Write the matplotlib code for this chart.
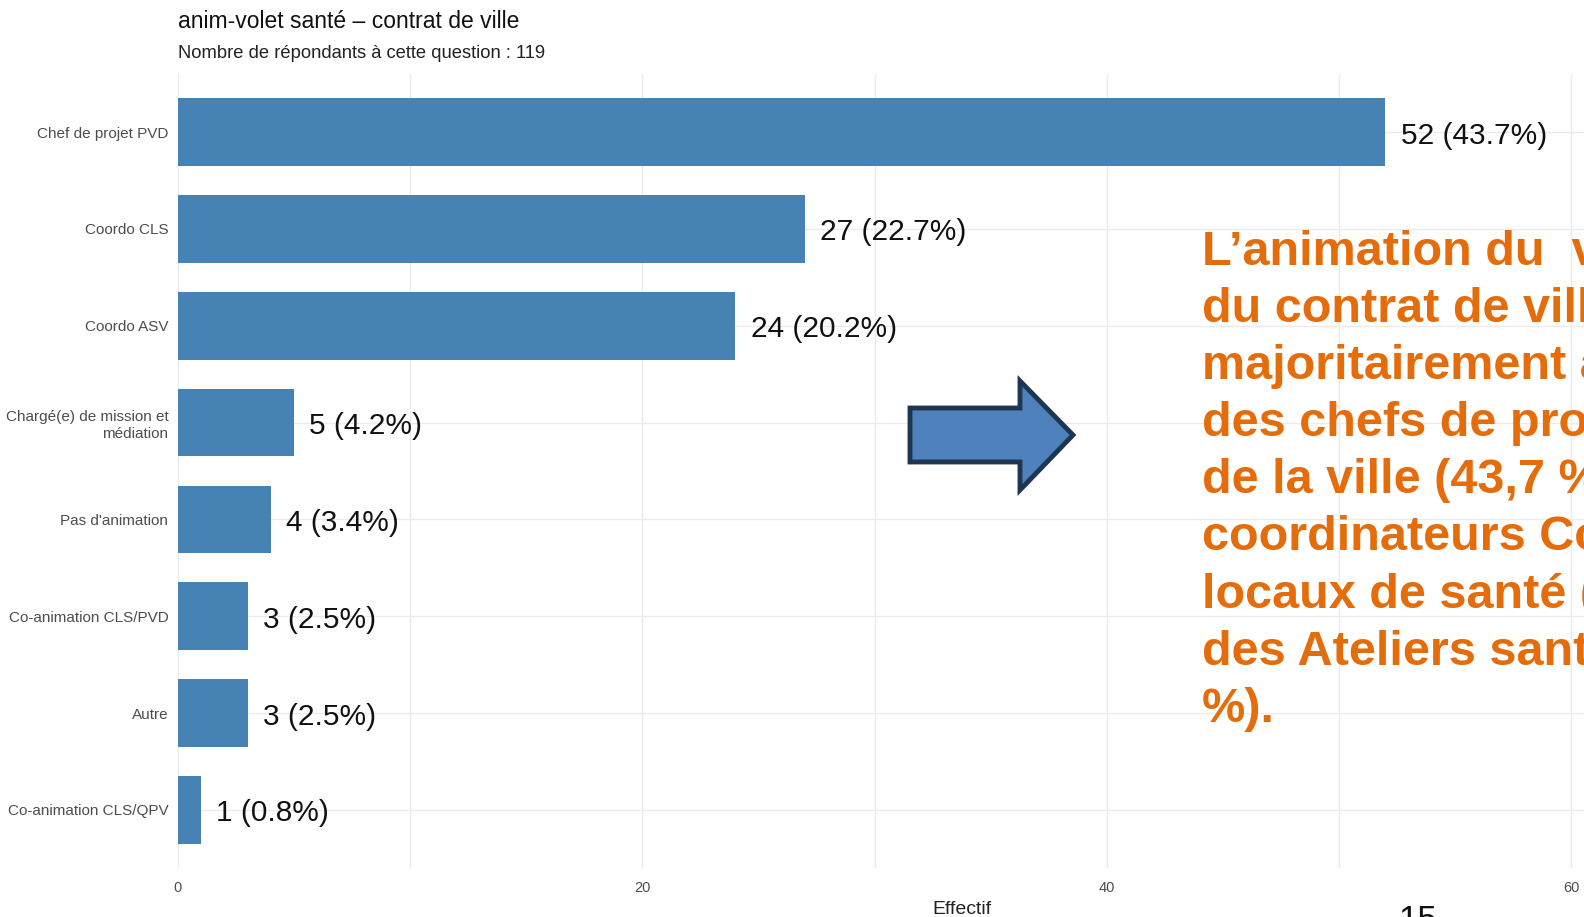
import numpy as np
import matplotlib.pyplot as plt
from matplotlib.patches import Polygon

# data
categories = ['Chef de projet PVD', 'Coordo CLS', 'Coordo ASV',
              'Chargé(e) de mission et\nmédiation', "Pas d'animation",
              'Co-animation CLS/PVD', 'Autre', 'Co-animation CLS/QPV']
counts = [52, 27, 24, 5, 4, 3, 3, 1]
percents = ['43.7%', '22.7%', '20.2%', '4.2%', '3.4%', '2.5%', '2.5%', '0.8%']
xticks = [0, 20, 40, 60]

title = 'anim-volet santé – contrat de ville'
subtitle = 'Nombre de répondants à cette question : 119'
comment_lines = ['L’animation du  volet santé',
                 'du contrat de ville est assurée',
                 'majoritairement assurée par',
                 'des chefs de projet politique',
                 'de la ville (43,7 %), des',
                 'coordinateurs Contrats',
                 'locaux de santé (22,7 %) et',
                 'des Ateliers santé ville (20,2',
                 '%).']

plt.rcParams['font.family'] = ['Liberation Sans', 'DejaVu Sans']

W, H = 1584, 917
fig = plt.figure(figsize=(W / 100, H / 100), dpi=100)

# panel position (pixels in the reference)
left, right, top, bottom = 178, 1584, 74, 868
ax = fig.add_axes([left / W, 1 - bottom / H, (right - left) / W, (bottom - top) / H])

ypos = np.arange(len(categories))
ax.barh(ypos, counts, height=0.7, color='#4682B4', zorder=2)

for y, c, p in zip(ypos, counts, percents):
    ax.annotate(f'{c} ({p})', (c, y), xytext=(11, -2.5), textcoords='offset points',
                va='center', ha='left', fontsize=21.5, color='#111111')

ax.set_xlim(0, (right - left) / 23.22)
ax.set_ylim(len(categories) - 0.4, -0.6)

ax.set_xticks(xticks)
ax.set_xticks([10, 30, 50], minor=True)
ax.set_yticks(ypos)
ax.set_yticklabels(categories, fontsize=11, color='#4D4D4D', linespacing=1.25)
ax.tick_params(axis='x', labelsize=10.5, colors='#4D4D4D', length=0, pad=9)
ax.tick_params(axis='x', which='minor', length=0)
ax.tick_params(axis='y', length=0, pad=7)

ax.grid(True, which='both', axis='x', color='#EBEBEB', lw=1, zorder=0)
ax.grid(True, axis='y', color='#EBEBEB', lw=1, zorder=0)
ax.set_axisbelow(True)
for s in ax.spines.values():
    s.set_visible(False)

fig.text(962 / W, 1 - 909 / H, 'Effectif', ha='center', va='center', fontsize=14, color='#222222')

# titles
fig.text(178 / W, 1 - 22 / H, title, ha='left', va='center', fontsize=16.5, color='#111111')
fig.text(178 / W, 1 - 54 / H, subtitle, ha='left', va='center', fontsize=13.2, color='#222222')

# slide overlay: arrow
arrow_px = [(910, 408), (1020, 408), (1020, 381), (1073, 435),
            (1020, 490), (1020, 462), (910, 462)]
arrow = Polygon([(x / W, 1 - y / H) for x, y in arrow_px], closed=True,
                transform=fig.transFigure, facecolor='#4F81BD', edgecolor='#1F3652',
                lw=3.5, joinstyle='miter', zorder=5)
fig.patches.append(arrow)

# slide overlay: comment text (clipped by the slide edge, as in the reference)
for i, line in enumerate(comment_lines):
    fig.text(1202 / W, 1 - (265 + 57.1 * i) / H, line, ha='left', va='baseline',
             fontsize=35, fontweight='bold', color='#E46C0A', zorder=6)

# page number, cut off at the bottom
fig.text(1398 / W, 1 - 904 / H, '15', ha='left', va='top', fontsize=25, color='#111111')

fig.savefig('out.png', dpi=100)
